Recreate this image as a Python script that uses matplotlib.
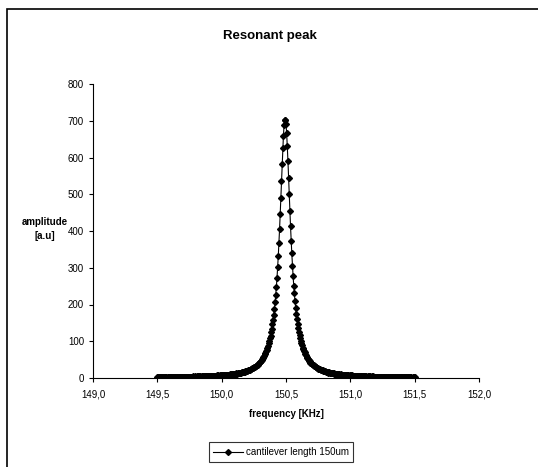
import numpy as np
import matplotlib
matplotlib.use("Agg")
import matplotlib.pyplot as plt
from matplotlib.patches import Rectangle

plt.rcParams['font.family'] = ['Liberation Sans', 'DejaVu Sans']

# amplitudes, 149.5 .. 151.5 kHz in 0.005 kHz steps
amplitude = [
    1.8, 2.4, 0.9, 1.6, 2.7, 1.3, 2.1, 1.0, 2.6, 1.9,
    2.0, 1.2, 2.9, 1.7, 2.3, 0.8, 2.5, 1.9, 2.8, 1.4,
    2.2, 3.1, 1.5, 2.6, 1.8, 3.0, 2.1, 1.6, 3.2, 2.4,
    2.5, 1.7, 3.3, 2.2, 2.9, 1.9, 3.4, 2.6, 2.0, 3.5,
    2.8, 3.6, 2.1, 3.1, 2.5, 3.8, 2.7, 3.3, 2.4, 3.9,
    3.2, 2.6, 4.0, 3.0, 3.7, 2.8, 4.2, 3.4, 3.1, 4.4,
    3.7, 4.5, 3.2, 4.1, 3.6, 4.8, 3.9, 4.3, 3.8, 5.0,
    4.2, 4.9, 3.9, 5.1, 4.4, 5.3, 4.6, 4.2, 5.6, 4.8,
    5.0, 5.7, 4.7, 5.9, 5.3, 6.2, 5.1, 5.8, 6.4, 5.6,
    5.9, 6.6, 5.7, 6.9, 6.2, 7.0, 6.5, 7.3, 6.8, 7.6,
    7.2, 7.8, 7.0, 7.9, 7.6, 8.4, 7.7, 8.6, 8.2, 9.0,
    8.9, 9.4, 8.8, 9.9, 9.5, 10.4, 9.8, 10.9, 10.3, 11.4,
    11.2, 11.9, 11.4, 12.6, 12.2, 13.3, 12.9, 14.0, 13.6, 14.8,
    14.7, 15.6, 15.3, 16.5, 16.4, 17.6, 17.3, 18.8, 18.5, 19.9,
    20.0, 21.2, 21.0, 22.6, 22.5, 24.1, 24.2, 26.0, 26.1, 28.0,
    28.6, 30.4, 30.6, 32.9, 33.4, 35.8, 36.4, 39.1, 39.9, 42.9,
    44.3, 47.1, 48.6, 52.3, 54.0, 58.1, 60.2, 64.9, 67.6, 72.8,
    76.8, 82.4, 87.0, 94.1, 99.6, 108.0, 115.0, 125.2, 134.0, 146.3,
    158.1, 172.6, 187.0, 206.1, 224.7, 248.0, 271.6, 300.7, 331.9, 367.9,
    405.0, 447.5, 490.4, 537.2, 581.0, 624.6, 659.5, 687.8, 702.0,
    703.4, 690.8, 667.2, 631.3, 591.2, 545.2, 500.8, 454.9, 414.0, 373.7,
    339.3,
    306.0, 278.4, 251.6, 230.0, 208.5, 191.7, 174.4, 161.3, 147.4, 137.2,
    125.8, 117.8, 108.3, 102.0, 94.0, 89.1, 82.3, 78.4, 72.5, 69.4,
    64.3, 61.9, 57.4, 55.5, 51.5, 50.1, 46.4, 45.4, 42.1, 41.3,
    38.3, 37.7, 34.9, 34.6, 32.0, 31.9, 29.4, 29.5, 27.2, 27.3,
    25.4, 25.1, 23.6, 23.6, 22.0, 22.1, 20.6, 20.7, 19.3, 19.2,
    17.9, 18.0, 16.8, 17.1, 15.8, 16.2, 14.9, 15.3, 14.1, 14.4,
    13.2, 13.8, 12.5, 13.0, 11.9, 12.4, 11.3, 11.8, 10.7, 11.2,
    10.1, 10.8, 9.6, 10.3, 9.1, 9.9, 8.8, 9.5, 8.4, 9.1,
    7.8, 8.7, 7.5, 8.4, 7.2, 8.1, 6.9, 7.8, 6.6, 7.5,
    6.4, 7.3, 6.1, 6.9, 5.8, 6.7, 5.6, 6.5, 5.3, 6.3,
    5.2, 6.1, 4.9, 5.8, 4.7, 5.6, 4.5, 5.4, 4.3, 5.2,
    4.4, 5.1, 4.1, 4.9, 3.9, 4.7, 3.8, 4.6, 3.6, 4.4,
    3.7, 4.5, 3.5, 4.3, 3.3, 4.1, 3.2, 3.9, 3.0, 3.8,
    3.2, 3.9, 2.9, 3.7, 2.8, 3.5, 2.6, 3.4, 2.5, 3.3,
    2.7, 3.5, 2.5, 3.3, 2.4, 3.1, 2.3, 3.0, 2.2, 2.9,
    2.4, 3.1, 2.2, 2.9, 2.1, 2.8, 2.0, 2.7, 1.9, 2.6,
    2.1, 2.8, 1.9, 2.6, 1.8, 2.5, 1.7, 2.4, 1.7, 2.3,
    1.8, 2.5, 1.6, 2.4, 1.5, 2.3, 1.5, 2.2, 1.4, 2.1,
    1.6, 2.3, 1.4, 2.1, 1.3, 2.0, 1.3, 1.9, 1.2, 1.9,
    1.7,
]
frequency = np.linspace(149.5, 151.5, len(amplitude))

x_ticks = [149.0, 149.5, 150.0, 150.5, 151.0, 151.5, 152.0]
y_ticks = [0, 100, 200, 300, 400, 500, 600, 700, 800]

fig = plt.figure(figsize=(5.38, 4.67), dpi=100)
ax = fig.add_axes([93 / 538, 1 - 378 / 467, 386 / 538, 294 / 467])

ax.plot(frequency, amplitude, color='black', lw=0.8, marker='D',
        markersize=3.0, markerfacecolor='black', markeredgecolor='black',
        label='cantilever length 150um')

ax.set_xlim(149.0, 152.0)
ax.set_ylim(0, 800)
ax.set_xticks(x_ticks)
ax.set_xticklabels([f"{t:.1f}".replace('.', ',') for t in x_ticks])
ax.set_yticks(y_ticks)
ax.tick_params(axis='both', labelsize=7, length=3, width=0.8, direction='out')
ax.tick_params(axis='x', pad=5)
for side in ['top', 'right']:
    ax.spines[side].set_visible(False)
for side in ['left', 'bottom']:
    ax.spines[side].set_linewidth(0.8)

fig.text(0.502, 1 - 36 / 467, 'Resonant peak', ha='center', va='center',
         fontsize=9.5, fontweight='bold')
fig.text(45 / 538, 1 - 229 / 467, 'amplitude\n[a.u]', ha='center', va='center',
         fontsize=7, fontweight='bold', linespacing=1.6)
fig.text(286 / 538, 1 - 414 / 467, 'frequency [KHz]', ha='center', va='center',
         fontsize=7, fontweight='bold')

leg = fig.legend(loc='center', bbox_to_anchor=(281 / 538, 1 - 452 / 467),
                 fontsize=7, frameon=True, fancybox=False, handlelength=3,
                 borderpad=0.5, handletextpad=0.3)
leg.get_frame().set_edgecolor('black')
leg.get_frame().set_linewidth(0.8)

fig.patches.append(Rectangle((7 / 538, -0.05), 1.1, 1 - 9 / 467 + 0.05,
                             transform=fig.transFigure, fill=False,
                             edgecolor='black', lw=1.2))

fig.savefig('out.png', dpi=100)
